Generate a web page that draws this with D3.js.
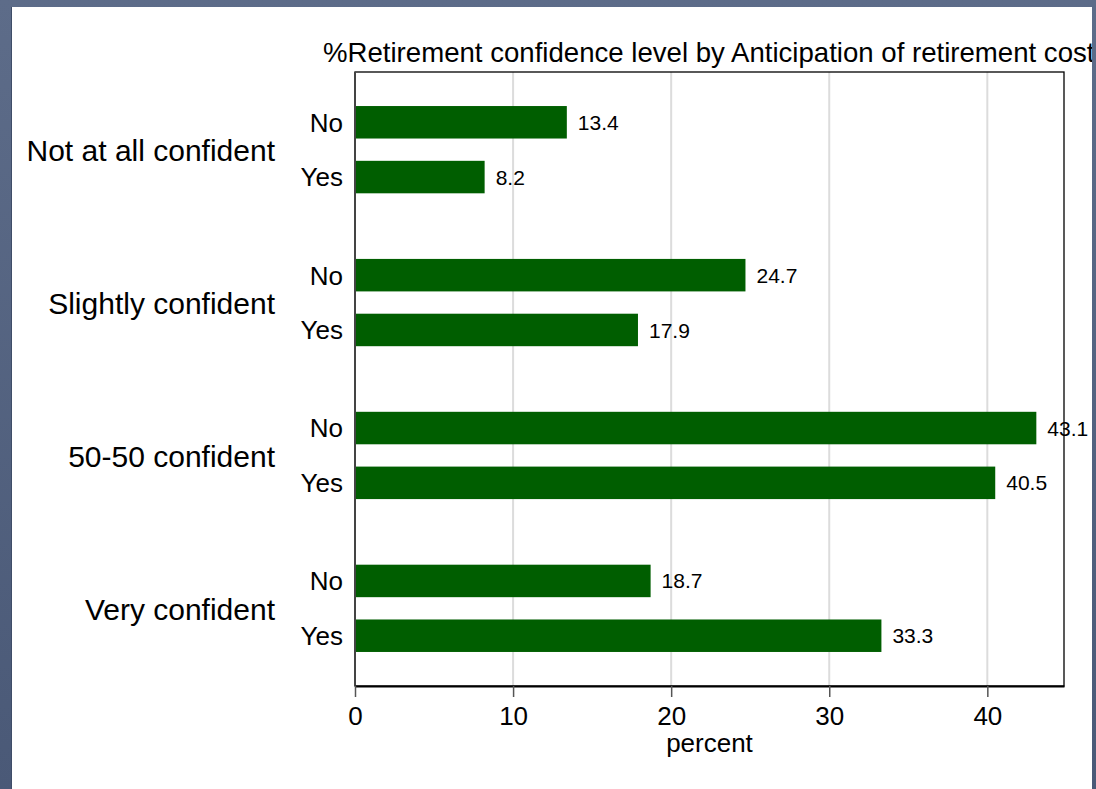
<!DOCTYPE html>
<html>
<head>
<meta charset="utf-8">
<script src="https://cdn.jsdelivr.net/npm/d3@7"></script>
<style>
  html, body { margin: 0; padding: 0; background: #55647f; }
  svg text { font-family: "Liberation Sans", Arial, Helvetica, sans-serif; fill: #000; }
</style>
</head>
<body>
<div id="chart"></div>
<script>
// data
const categories = ['Not at all confident', 'Slightly confident', '50-50 confident', 'Very confident'];
const subgroups = ['No', 'Yes'];
const valuesNo = [13.4, 24.7, 43.1, 18.7];
const valuesYes = [8.2, 17.9, 40.5, 33.3];
const xTicks = [0, 10, 20, 30, 40];
const title = '%Retirement confidence level by Anticipation of retirement cost';
const xTitle = 'percent';

const data = [];
categories.forEach((c, i) => {
  data.push({ category: c, group: 'No', value: valuesNo[i] });
  data.push({ category: c, group: 'Yes', value: valuesYes[i] });
});

const width = 1096, height = 789;
const plot = { left: 355, right: 1064, top: 72, bottom: 686 };
const barColor = '#005e00';

const svg = d3.select('#chart').append('svg')
  .attr('width', width)
  .attr('height', height);

// background: slate frame + white panel
const grad = svg.append('defs').append('linearGradient')
  .attr('id', 'bg').attr('x1', 0).attr('y1', 0).attr('x2', 0).attr('y2', 1);
grad.append('stop').attr('offset', '0%').attr('stop-color', '#5d6c89');
grad.append('stop').attr('offset', '100%').attr('stop-color', '#4a5977');
svg.append('rect').attr('width', width).attr('height', height).attr('fill', 'url(#bg)');

svg.select('defs').append('clipPath').attr('id', 'panel')
  .append('rect').attr('x', 12).attr('y', 7).attr('width', 1080).attr('height', height);

svg.append('rect').attr('x', 11).attr('y', 7).attr('width', 1).attr('height', height).attr('fill', '#3f4d68');
const panel = svg.append('g').attr('clip-path', 'url(#panel)');
panel.append('rect').attr('x', 12).attr('y', 7).attr('width', 1080).attr('height', height).attr('fill', '#fff');

// scales
const x = d3.scaleLinear()
  .domain([0, 44.85])
  .range([plot.left, plot.right]);

const y0 = d3.scaleBand()
  .domain(categories)
  .range([plot.top, plot.bottom])
  .paddingInner(0.2833)
  .paddingOuter(0.1497);

const y1 = d3.scaleBand()
  .domain(subgroups)
  .range([0, y0.bandwidth()])
  .paddingInner(0.407)
  .paddingOuter(0.2035);

// gridlines
panel.append('g')
  .selectAll('line')
  .data(xTicks.filter(d => d > 0))
  .join('line')
  .attr('x1', d => x(d)).attr('x2', d => x(d))
  .attr('y1', plot.top).attr('y2', plot.bottom)
  .attr('stroke', '#dcdcdc')
  .attr('stroke-width', 2);

// bars
panel.append('g')
  .selectAll('rect')
  .data(data)
  .join('rect')
  .attr('x', x(0))
  .attr('y', d => y0(d.category) + y1(d.group))
  .attr('width', d => x(d.value) - x(0))
  .attr('height', y1.bandwidth())
  .attr('fill', barColor);

// value labels
panel.append('g')
  .selectAll('text')
  .data(data)
  .join('text')
  .attr('x', d => x(d.value) + 11)
  .attr('y', d => y0(d.category) + y1(d.group) + y1.bandwidth() / 2)
  .attr('dy', '0.36em')
  .attr('font-size', 21)
  .text(d => d.value.toFixed(1));

// plot frame
panel.append('rect')
  .attr('x', plot.left).attr('y', plot.top)
  .attr('width', plot.right - plot.left).attr('height', plot.bottom - plot.top)
  .attr('fill', 'none').attr('stroke', '#000').attr('stroke-width', 1.3);
panel.append('line')
  .attr('x1', plot.left).attr('x2', plot.left)
  .attr('y1', plot.top).attr('y2', plot.bottom)
  .attr('stroke', '#444').attr('stroke-width', 2);

// x axis
const xAxis = panel.append('g')
  .attr('transform', `translate(0,${plot.bottom})`)
  .call(d3.axisBottom(x).tickValues(xTicks).tickSizeInner(11).tickSizeOuter(0)
    .tickPadding(10).tickFormat(d3.format('d')));
xAxis.select('.domain').attr('stroke', '#000').attr('stroke-width', 2);
xAxis.selectAll('.tick line').attr('stroke', '#555').attr('stroke-width', 1.5);
xAxis.selectAll('.tick text').attr('font-size', 26).attr('fill', '#000')
  .attr('font-family', '"Liberation Sans", Arial, sans-serif');

panel.append('text')
  .attr('x', (plot.left + plot.right) / 2)
  .attr('y', 752)
  .attr('text-anchor', 'middle')
  .attr('font-size', 26)
  .text(xTitle);

// subgroup labels
panel.append('g')
  .selectAll('text')
  .data(data)
  .join('text')
  .attr('x', plot.left - 12)
  .attr('y', d => y0(d.category) + y1(d.group) + y1.bandwidth() / 2)
  .attr('dy', '0.36em')
  .attr('text-anchor', 'end')
  .attr('font-size', 26)
  .text(d => d.group);

// category labels
panel.append('g')
  .selectAll('text')
  .data(categories)
  .join('text')
  .attr('x', 275)
  .attr('y', d => y0(d) + y0.bandwidth() / 2)
  .attr('dy', '0.38em')
  .attr('text-anchor', 'end')
  .attr('font-size', 30)
  .text(d => d);

// title (runs past the panel edge and is clipped, as in the original)
panel.append('text')
  .attr('x', 323)
  .attr('y', 62)
  .attr('font-size', 27.6)
  .text(title);
</script>
</body>
</html>
